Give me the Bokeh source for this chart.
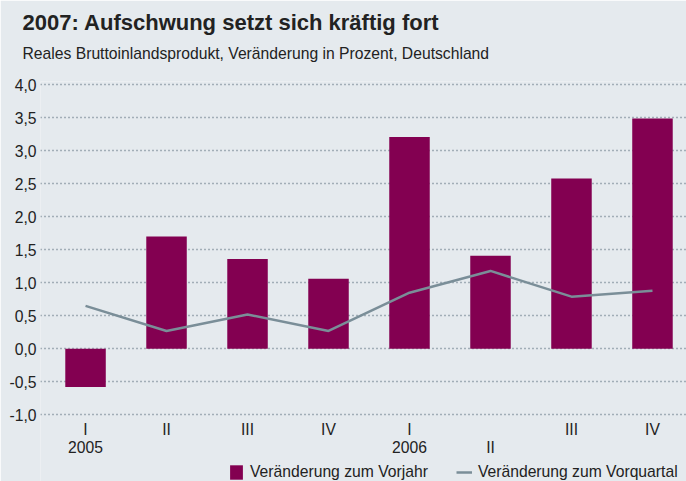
from bokeh.plotting import figure
from bokeh.models import Range1d, FixedTicker, Title, Legend, LegendItem, ColumnDataSource
from bokeh.core.properties import value
from bokeh.embed import file_html
from bokeh.resources import INLINE

# ---- data ----
tick_labels = ["I\n2005", "II", "III", "IV", "I\n2006", "\nII", "III", "IV"]
vorjahr = [-0.58, 1.70, 1.36, 1.06, 3.21, 1.41, 2.58, 3.49]
vorquartal = [0.65, 0.27, 0.52, 0.27, 0.85, 1.18, 0.79, 0.88]
y_ticks = [-1.0, -0.5, 0.0, 0.5, 1.0, 1.5, 2.0, 2.5, 3.0, 3.5, 4.0]
title_text = "2007: Aufschwung setzt sich kräftig fort"
subtitle_text = "Reales Bruttoinlandsprodukt, Veränderung in Prozent, Deutschland"
legend_labels = ["Veränderung zum Vorjahr", "Veränderung zum Vorquartal"]

BG = "#e5eaee"
BAR = "#830051"
LINE = "#7a8e98"
GRID = "#5f7380"
TXT = "#222222"
FONT = "Liberation Sans"
FS = "15.7px"

xs = list(range(len(vorjahr)))
src = ColumnDataSource(dict(x=xs, vj=vorjahr, vq=vorquartal))
lab_src = ColumnDataSource(dict(x=xs, y=[-1.098] * len(xs), t=tick_labels))

p = figure(width=686, height=481, output_backend="svg", toolbar_location=None,
           x_range=Range1d(-0.556, 7.42), y_range=Range1d(-2.0106, 4.05),
           x_axis_location=None, title=title_text,
           min_border_left=40, min_border_right=0, min_border_top=81, min_border_bottom=0)
p.background_fill_color = BG
p.border_fill_color = BG
p.outline_line_color = None

p.title.text_font = FONT
p.title.text_font_size = "22px"
p.title.text_font_style = "bold"
p.title.text_color = TXT
p.title.offset = -18
p.title.standoff = -22

sub = Title(text=subtitle_text, text_font=FONT, text_font_size=FS,
            text_font_style="normal", text_color=TXT, offset=-18, standoff=39)
p.add_layout(sub, "above")

bars = p.vbar(x="x", top="vj", bottom=0, width=0.5, source=src, fill_color=BAR, line_color=None)
line = p.line(x="x", y="vq", source=src, line_color=LINE, line_width=2.5)

# category labels under the bars (quarter / year)
p.text(x="x", y="y", text="t", source=lab_src, text_align="center", text_baseline="top",
       text_font=value(FONT), text_font_size=FS, text_color=TXT, text_line_height=1.05)

# y axis
yax = p.yaxis[0]
yax.ticker = FixedTicker(ticks=y_ticks)
yax.major_label_overrides = {t: f"{t:.1f}".replace(".", ",") for t in y_ticks}
yax.axis_line_color = None
yax.major_tick_line_color = None
yax.minor_tick_line_color = None
yax.major_tick_out = 0
yax.major_label_standoff = 4
yax.major_label_text_font = FONT
yax.major_label_text_font_size = FS
yax.major_label_text_color = TXT

p.xgrid.grid_line_color = None
p.ygrid.ticker = FixedTicker(ticks=y_ticks)
p.ygrid.grid_line_color = GRID
p.ygrid.grid_line_dash = "1 3"
p.ygrid.grid_line_width = 1.5

legend = Legend(items=[LegendItem(label=legend_labels[0], renderers=[bars]),
                       LegendItem(label=legend_labels[1], renderers=[line])],
                orientation="horizontal", location=(188, 0),
                background_fill_alpha=0, border_line_color=None,
                padding=0, margin=0, spacing=28, label_standoff=6,
                glyph_width=16, glyph_height=18,
                label_text_font=FONT, label_text_font_size=FS, label_text_color=TXT)
p.add_layout(legend, "center")

open("out.html", "w").write(file_html(p, INLINE))
